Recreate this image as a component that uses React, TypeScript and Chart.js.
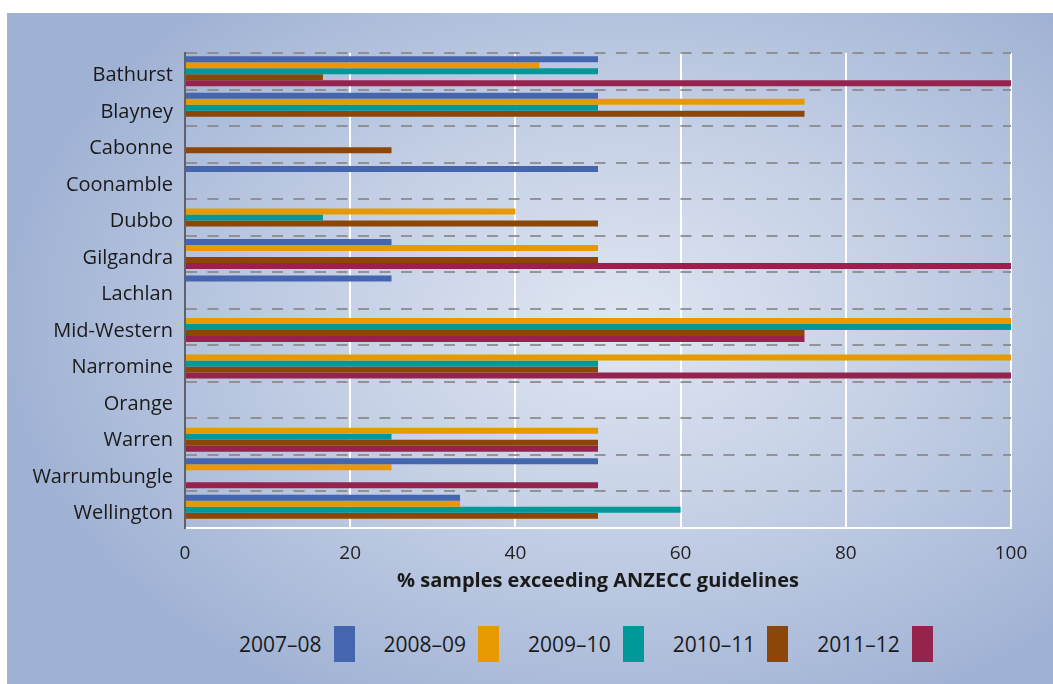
import React, { useEffect, useRef } from "react";
import { Chart, registerables } from "chart.js";

Chart.register(...registerables);

const councils = [
  "Bathurst", "Blayney", "Cabonne", "Coonamble", "Dubbo", "Gilgandra", "Lachlan",
  "Mid-Western", "Narromine", "Orange", "Warren", "Warrumbungle", "Wellington",
];

const years = ["2007–08", "2008–09", "2009–10", "2010–11", "2011–12"];
const yearColors = ["#4565ae", "#e69a00", "#00999a", "#8c4607", "#94244d"];

const y2007_08 = [50, 50, null, 50, null, 25, 25, null, null, null, null, 50, 33.3];
const y2008_09 = [42.9, 75, null, null, 40, 50, null, 100, 100, null, 50, 25, 33.3];
const y2009_10 = [50, 50, null, null, 16.7, null, null, 100, 50, null, 25, null, 60];
const y2010_11 = [16.7, 75, 25, null, 50, 50, null, 75, 50, null, 50, null, 50];
const y2011_12 = [100, null, null, null, null, 100, null, 75, 100, null, 50, 50, null];

const xTicks = [0, 20, 40, 60, 80, 100];
const xTitle = "% samples exceeding ANZECC guidelines";

const FONT = "'Open Sans', 'DejaVu Sans', sans-serif";

export default function App() {
  const ref = useRef<HTMLCanvasElement | null>(null);

  useEffect(() => {
    document.body.style.margin = "0";
    const series = [y2007_08, y2008_09, y2009_10, y2010_11, y2011_12];
    const chart = new Chart(ref.current as HTMLCanvasElement, {
      type: "bar",
      data: {
        labels: councils,
        datasets: series.map((d, i) => ({
          label: years[i],
          data: d,
          backgroundColor: yearColors[i],
          borderWidth: 0,
          categoryPercentage: 0.82,
          barPercentage: 1.0,
        })),
      },
      options: {
        indexAxis: "y",
        animation: false,
        responsive: false,
        devicePixelRatio: 1,
        layout: { padding: { top: 53, right: 42, left: 0, bottom: 0 } },
        plugins: { legend: { display: false }, tooltip: { enabled: false } },
        scales: {
          x: {
            min: 0,
            max: 100,
            afterBuildTicks: (s: any) => {
              s.ticks = xTicks.map((v) => ({ value: v }));
            },
            afterFit: (s: any) => {
              s.height = 72;
            },
            grid: { color: "#ffffff", lineWidth: 2, drawTicks: false },
            border: { display: true, color: "#ffffff", width: 2 },
            ticks: {
              padding: 14,
              color: "#222222",
              font: { family: FONT, size: 19 },
            },
            title: {
              display: true,
              text: xTitle,
              color: "#1a1a1a",
              font: { family: FONT, size: 20, weight: "bold" },
              padding: { top: 0, bottom: 7 },
            },
          },
          y: {
            afterFit: (s: any) => {
              s.width = 185;
            },
            grid: {
              color: "rgba(135,135,135,0.85)",
              lineWidth: 2,
              drawTicks: false,
              offset: true,
            },
            border: { display: true, color: "#5f6266", width: 2, dash: [11, 10.5] },
            ticks: {
              padding: 12,
              labelOffset: 4,
              color: "#1a1a1a",
              font: { family: FONT, size: 20 },
            },
          },
        },
      },
    } as any);
    return () => chart.destroy();
  }, []);

  return (
    <div style={{ position: "absolute", left: 0, top: 0, width: 1053, height: 684, overflow: "hidden", background: "#ffffff" }}>
      <div
        style={{
          position: "absolute",
          left: 7,
          top: 13,
          right: 0,
          bottom: 0,
          background:
            "radial-gradient(ellipse 620px 430px at 613px 310px, #e0e6f2 0%, #c6d1e6 45%, #a0b2d4 100%)",
        }}
      />
      <canvas ref={ref} width={1053} height={600} style={{ position: "absolute", left: 0, top: 0 }} />
      <div
        style={{
          position: "absolute",
          left: 239,
          top: 626,
          display: "flex",
          alignItems: "center",
          fontFamily: FONT,
          fontSize: 21,
          color: "#1a1a1a",
        }}
      >
        {years.map((y, i) => (
          <div key={y} style={{ display: "flex", alignItems: "center", marginRight: 29 }}>
            <span style={{ marginRight: 12, lineHeight: "36px" }}>{y}</span>
            <span style={{ display: "inline-block", width: 21, height: 36, background: yearColors[i] }} />
          </div>
        ))}
      </div>
    </div>
  );
}
